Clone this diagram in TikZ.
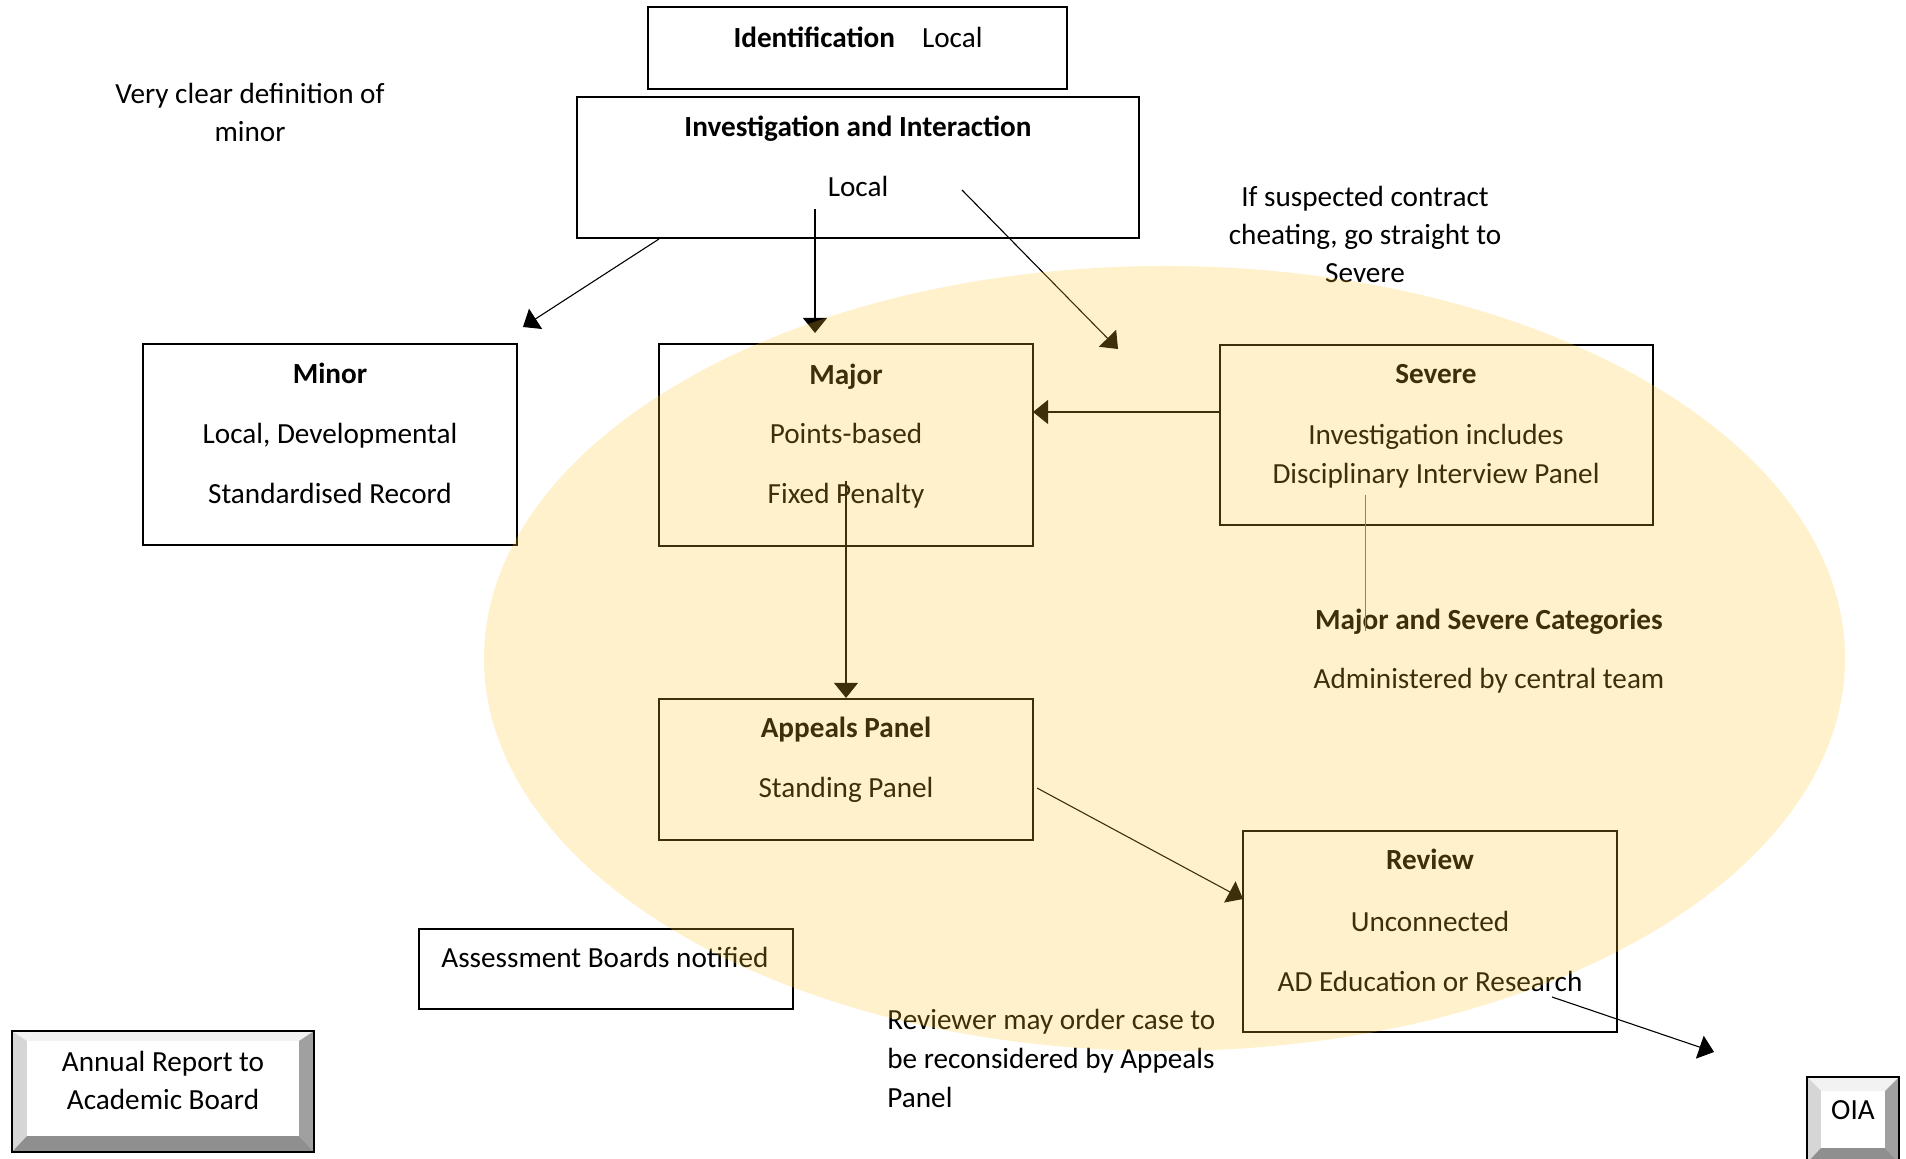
\documentclass[tikz,border=0pt]{standalone}
\usepackage{fontspec}
\setmainfont{Carlito}
\usetikzlibrary{arrows.meta,fit,shapes.geometric}
\definecolor{ellc}{RGB}{255,200,45}
\definecolor{bevT}{RGB}{242,242,242}
\definecolor{bevL}{RGB}{214,214,214}
\definecolor{bevR}{RGB}{160,160,160}
\definecolor{bevB}{RGB}{143,143,143}
\definecolor{blueln}{RGB}{68,114,196}
\begin{document}
\begin{tikzpicture}[x=0.5pt,y=-0.5pt,
  box/.style={draw=black,line width=1.1pt,inner sep=0pt},
  txt/.style={inner sep=0pt,anchor=base,font=\fontsize{14.6}{19}\selectfont},
  btxt/.style={txt,font=\fontsize{14.6}{19}\selectfont\bfseries},
  arr/.style={line width=0.55pt,-{Triangle[length=7.5pt,width=12pt]}},
  ]
\useasboundingbox (0,0) rectangle (1906,1159);
\fill[white] (0,0) rectangle (1906,1159);

% boxes
\node[box,fit={(648,7)(1067,89)}] (ident) {};
\node[box,fit={(577,97)(1139,238)}] (invest) {};
\node[box,fit={(143,344)(517,545)}] (minor) {};
\node[box,fit={(659,344)(1033,546)}] (major) {};
\node[box,fit={(1220,345)(1653,525)}] (severe) {};
\node[box,fit={(659,699)(1033,840)}] (appeals) {};
\node[box,fit={(1243,831)(1617,1032)}] (review) {};
\node[box,fit={(419,929)(793,1009)}] (assess) {};

% bevel button: Annual Report
\fill[bevT] (12,1031) -- (314,1031) -- (299,1041) -- (27,1041) -- cycle;
\fill[bevL] (12,1031) -- (27,1041) -- (27,1136) -- (12,1152) -- cycle;
\fill[bevR] (314,1031) -- (314,1152) -- (299,1136) -- (299,1041) -- cycle;
\fill[bevB] (12,1152) -- (314,1152) -- (299,1136) -- (27,1136) -- cycle;
\fill[white] (27,1041) rectangle (299,1136);
\node[box,fit={(12,1031)(314,1152)}] (annual) {};

% bevel button: OIA
\fill[bevT] (1807,1077) -- (1899,1077) -- (1885,1091) -- (1821,1091) -- cycle;
\fill[bevL] (1807,1077) -- (1821,1091) -- (1821,1148) -- (1807,1163) -- cycle;
\fill[bevR] (1899,1077) -- (1899,1163) -- (1885,1148) -- (1885,1091) -- cycle;
\fill[bevB] (1807,1163) -- (1899,1163) -- (1885,1148) -- (1821,1148) -- cycle;
\fill[white] (1821,1091) rectangle (1885,1148);
\node[box,fit={(1807,1077)(1899,1163)}] (oia) {};

% texts
\node[txt] (identT) at (858,48) {\textbf{Identification}\hspace{13.5pt}Local};
\node[btxt] (investT) at (858,137) {Investigation and Interaction};
\node[txt] (investL) at (858,197) {Local};
\node[txt] (vc1) at (250,104) {Very clear definition of};
\node[txt] (vc2) at (250,142) {minor};
\node[btxt] (minorT) at (330,384) {Minor};
\node[txt] (minor1) at (330,444) {Local, Developmental};
\node[txt] (minor2) at (330,504) {Standardised Record};
\node[btxt] (majorT) at (846,385) {Major};
\node[txt] (major1) at (846,444) {Points-based};
\node[txt] (major2) at (846,504) {Fixed Penalty};
\node[txt] (cc1) at (1365,207) {If suspected contract};
\node[txt] (cc2) at (1365,245) {cheating, go straight to};
\node[txt] (cc3) at (1365,283) {Severe};
\node[btxt] (sevT) at (1436,384) {Severe};
\node[txt] (sev1) at (1436,445) {Investigation includes};
\node[txt] (sev2) at (1436,484) {Disciplinary Interview Panel};
\node[btxt] (msT) at (1489,630) {Major and Severe Categories};
\node[txt] (ms1) at (1489,689) {Administered by central team};
\node[btxt] (appT) at (846,738) {Appeals Panel};
\node[txt] (app1) at (846,798) {Standing Panel};
\node[btxt] (revT) at (1430,870) {Review};
\node[txt] (rev1) at (1430,931) {Unconnected};
\node[txt] (rev2) at (1430,991) {AD Education or Research};
\node[txt,anchor=base west] (assT) at (441,967) {Assessment Boards notified};
\node[txt,anchor=base west] (rv1) at (887,1029) {Reviewer may order case to};
\node[txt,anchor=base west] (rv2) at (887,1068) {be reconsidered by Appeals};
\node[txt,anchor=base west] (rv3) at (887,1107) {Panel};
\node[txt] (an1) at (163,1071) {Annual Report to};
\node[txt] (an2) at (163,1109) {Academic Board};
\node[txt] (oiaT) at (1853,1119) {OIA};

% connector end points
\coordinate (i1) at (659,239);
\coordinate (m1) at (523,327);
\coordinate (i2) at (815,209);
\coordinate (m2) at (815,333);
\coordinate (i3) at (962,190);
\coordinate (s3) at (1118,349);
\coordinate (s4) at (1220,412);
\coordinate (m4) at (1033,412);
\coordinate (m5) at (846,481);
\coordinate (a6) at (1037,788);
\coordinate (r6) at (1243,899);
\coordinate (r7) at (1552,997);
\coordinate (o7) at (1714,1052);
\coordinate (b1) at (1365,495);
\coordinate (b2) at (1365,631);

\draw[arr] (i1) -- (m1);
\draw[arr] (i2) -- (m2);
\draw[arr] (i3) -- (s3);
\draw[arr] (s4) -- (m4);
\draw[arr] (m5) -- (appeals.north);
\draw[arr] (a6) -- (r6);
\draw[arr] (r7) -- (o7);
\draw[blueln,line width=0.5pt] (b1) -- (b2);

% translucent zone
\node[ellipse,fill=ellc,fill opacity=0.24,inner sep=0pt,
      minimum width=680.5pt,minimum height=392.5pt] (zone) at (1164.5,658.5) {};
\end{tikzpicture}
\end{document}
